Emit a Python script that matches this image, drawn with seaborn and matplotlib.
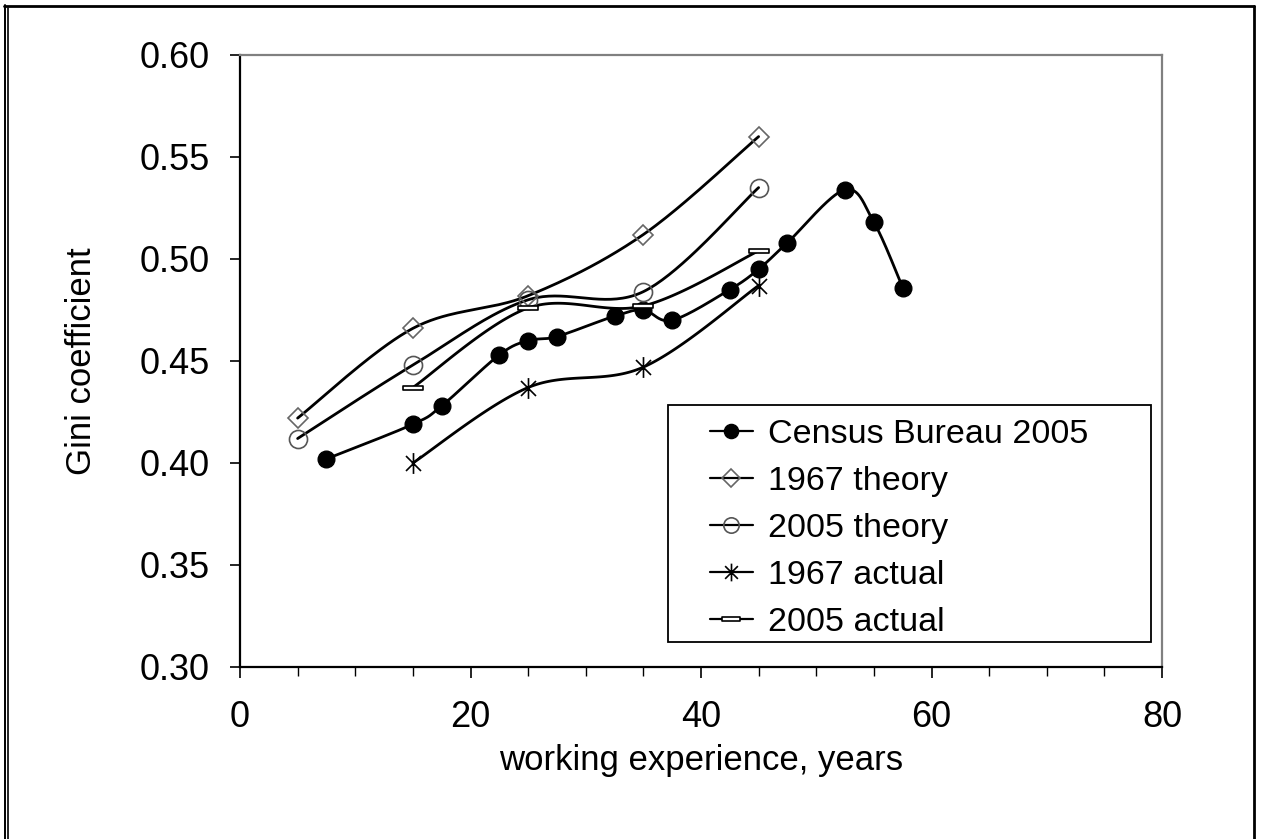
import numpy as np
import matplotlib
matplotlib.use("Agg")
import matplotlib.pyplot as plt
from matplotlib.lines import Line2D
from matplotlib.patches import Rectangle
from matplotlib.path import Path
import seaborn as sns

# ---- data -------------------------------------------------------------
census_x = [7.5, 15, 17.5, 22.5, 25, 27.5, 32.5, 35, 37.5, 42.5, 45, 47.5, 52.5, 55, 57.5]
census_y = [0.402, 0.419, 0.428, 0.453, 0.460, 0.462, 0.472, 0.475, 0.470,
            0.485, 0.495, 0.508, 0.534, 0.518, 0.486]

theory_x = [5, 15, 25, 35, 45]
theory1967_y = [0.422, 0.466, 0.482, 0.512, 0.560]
theory2005_y = [0.412, 0.448, 0.480, 0.484, 0.535]

actual_x = [15, 25, 35, 45]
actual1967_y = [0.400, 0.437, 0.447, 0.487]
actual2005_y = [0.437, 0.476, 0.477, 0.504]

series_labels = ["Census Bureau 2005", "1967 theory", "2005 theory",
                 "1967 actual", "2005 actual"]

x_ticks = [0, 20, 40, 60, 80]
y_ticks = [0.30, 0.35, 0.40, 0.45, 0.50, 0.55, 0.60]

# ---- style ------------------------------------------------------------
sns.set_style("white")
plt.rcParams["font.family"] = ["Liberation Sans", "DejaVu Sans"]
for key in ("text.color", "axes.labelcolor", "xtick.color", "ytick.color"):
    plt.rcParams[key] = "black"
FS_TICK = 26
FS_LABEL = 25
FS_LEG = 24.5


def smooth_curve(xs, ys, n=40):
    """Cardinal (Catmull-Rom) Bezier smoothing through the given points."""
    p = np.column_stack([xs, ys]).astype(float)
    ext = np.vstack([p[0], p, p[-1]])
    t = np.linspace(0, 1, n)[:, None]
    parts = []
    for i in range(len(p) - 1):
        p0, p1, p2, p3 = ext[i], ext[i + 1], ext[i + 2], ext[i + 3]
        c1 = p1 + (p2 - p0) / 6.0
        c2 = p2 - (p3 - p1) / 6.0
        seg = ((1 - t) ** 3) * p1 + 3 * ((1 - t) ** 2) * t * c1 \
            + 3 * (1 - t) * (t ** 2) * c2 + (t ** 3) * p2
        parts.append(seg if i == 0 else seg[1:])
    return np.vstack(parts)


star_path = Path(
    [(0, -1), (0, 1), (-0.72, -0.72), (0.72, 0.72), (-0.72, 0.72), (0.72, -0.72)],
    [Path.MOVETO, Path.LINETO, Path.MOVETO, Path.LINETO, Path.MOVETO, Path.LINETO],
)
bar_path = Path(
    [(-1, -0.22), (1, -0.22), (1, 0.22), (-1, 0.22), (-1, -0.22)],
    [Path.MOVETO, Path.LINETO, Path.LINETO, Path.LINETO, Path.CLOSEPOLY],
)

styles = [
    dict(marker="o", ms=12, mfc="black", mec="black", mew=1.0),
    dict(marker="D", ms=10.5, mfc="none", mec="#666666", mew=1.2),
    dict(marker="o", ms=13, mfc="none", mec="#555555", mew=1.2),
    dict(marker=star_path, ms=15, mfc="none", mec="black", mew=1.2),
    dict(marker=bar_path, ms=15, mfc="white", mec="black", mew=1.2),
]
series = [
    (census_x, census_y),
    (theory_x, theory1967_y),
    (theory_x, theory2005_y),
    (actual_x, actual1967_y),
    (actual_x, actual2005_y),
]

fig = plt.figure(figsize=(12.62, 8.39), dpi=100)
ax = fig.add_axes([240 / 1262, 1 - 667 / 839, 922 / 1262, 612 / 839])

for (xs, ys), st in zip(series, styles):
    curve = smooth_curve(xs, ys)
    sns.lineplot(x=curve[:, 0], y=curve[:, 1], sort=False, estimator=None,
                 color="black", linewidth=2.0, ax=ax, legend=False)
    ax.plot(xs, ys, linestyle="none", zorder=3, **st)

ax.set_xlim(0, 80)
ax.set_ylim(0.30, 0.60)
ax.set_xticks(x_ticks)
ax.set_xticks(np.arange(0, 81, 5), minor=True)
ax.set_yticks(y_ticks)
ax.set_xticklabels([str(v) for v in x_ticks], fontsize=FS_TICK)
ax.set_yticklabels([f"{v:.2f}" for v in y_ticks], fontsize=FS_TICK)
ax.tick_params(axis="x", which="major", direction="out", length=8, width=1.2,
               color="black", pad=16, bottom=True)
ax.tick_params(axis="x", which="minor", direction="out", length=6.5, width=1.0,
               color="black", bottom=True)
ax.tick_params(axis="y", which="major", direction="out", length=7, width=1.2,
               color="black", pad=15, left=True)
ax.grid(False)

for side in ("left", "bottom"):
    ax.spines[side].set_color("black")
    ax.spines[side].set_linewidth(1.6)
for side in ("top", "right"):
    ax.spines[side].set_color("#808080")
    ax.spines[side].set_linewidth(1.6)

ax.set_xlabel("working experience, years", fontsize=FS_LABEL, labelpad=6)
ax.set_ylabel("Gini coefficient", fontsize=FS_LABEL, labelpad=30)

# legend frame and entries
ax.add_patch(Rectangle((0.464, 0.041), 0.524, 0.387, transform=ax.transAxes,
                       facecolor="white", edgecolor="black", linewidth=1.3,
                       zorder=4))
handles = []
for st in styles:
    hs = dict(st)
    hs["ms"] = hs["ms"] * 0.85
    handles.append(Line2D([], [], color="black", linewidth=1.6, **hs))
leg = ax.legend(handles, series_labels, loc="upper left",
                bbox_to_anchor=(0.510, 0.405), frameon=False, fontsize=FS_LEG,
                handlelength=1.25, handletextpad=0.45, labelspacing=0.47,
                borderpad=0, borderaxespad=0)
leg.set_zorder(5)

# outer figure border
border = dict(transform=fig.transFigure, color="black")
fig.add_artist(Line2D([4.5 / 1262, 4.5 / 1262], [0, 1 - 5 / 839], linewidth=1.4, **border))
fig.add_artist(Line2D([7.8 / 1262, 7.8 / 1262], [0, 1 - 7.5 / 839], linewidth=1.2, **border))
fig.add_artist(Line2D([4 / 1262, 1253.5 / 1262], [1 - 6 / 839, 1 - 6 / 839], linewidth=2.0, **border))
fig.add_artist(Line2D([1253.5 / 1262, 1253.5 / 1262], [0, 1 - 6 / 839], linewidth=2.0, **border))

fig.savefig("out.png", dpi=100)
